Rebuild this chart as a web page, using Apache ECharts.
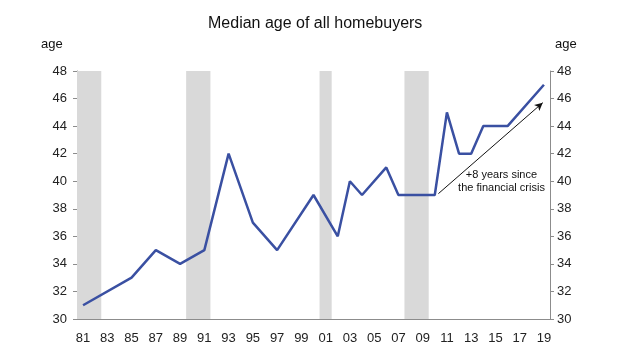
<!DOCTYPE html>
<html>
<head>
<meta charset="utf-8">
<script src="https://cdn.jsdelivr.net/npm/echarts@6/dist/echarts.min.js"></script>
<style>html,body{margin:0;padding:0;background:#fff}#c{width:640px;height:360px}</style>
</head>
<body>
<div id="c"></div>
<script>
var categories = ['81','82','83','84','85','86','87','88','89','90','91','92','93','94','95','96','97','98','99','00','01','02','03','04','05','06','07','08','09','10','11','12','13','14','15','16','17','18','19'];
var medianAge = [31,null,null,null,33,null,35,null,34,null,35,null,42,null,37,null,35,null,null,39,null,36,40,39,null,41,39,39,39,39,45,42,42,44,null,44,null,null,47];
var recessions = [[1981,1982],[1990,1991],[2001,2001],[2008,2009]];
var arrowFrom = [2010.3, 39.1];
var arrowTo = [2018.9, 45.7];
var noteAt = [2015.5, 40.0];
var noteText = '+8 years since\nthe financial crisis';
var yTicks = {min:30, max:48, interval:2};

var font = 'Liberation Sans, Arial, sans-serif';
var chart = echarts.init(document.getElementById('c'), null, {renderer:'canvas'});
var axisGray = '#8c8c8c';
chart.setOption({
  animation:false,
  backgroundColor:'#fff',
  title:{text:'Median age of all homebuyers', left:203, top:11,
    textStyle:{fontFamily:font, fontSize:16, fontWeight:'normal', color:'#111'}},
  graphic:[
    {type:'text', left:41, top:38, style:{text:'age', font:'13px '+font, fill:'#111'}},
    {type:'text', left:555, top:38, style:{text:'age', font:'13px '+font, fill:'#111'}}
  ],
  grid:{left:77, right:90, top:71, bottom:41},
  xAxis:[
    {type:'category', data:categories, boundaryGap:true,
     axisLine:{lineStyle:{color:axisGray}},
     axisTick:{interval:0, length:4, lineStyle:{color:axisGray}},
     axisLabel:{interval:1, margin:13, fontFamily:font, fontSize:13, color:'#222'}},
    {type:'value', min:1980.5, max:2019.5, show:false}
  ],
  yAxis:[
    {type:'value', position:'left', min:yTicks.min, max:yTicks.max, interval:yTicks.interval,
     splitLine:{show:false},
     axisLine:{show:true, lineStyle:{color:axisGray}},
     axisTick:{show:true, length:4, lineStyle:{color:axisGray}},
     axisLabel:{margin:10, fontFamily:font, fontSize:13, color:'#222'}},
    {type:'value', position:'right', min:yTicks.min, max:yTicks.max, interval:yTicks.interval,
     splitLine:{show:false},
     axisLine:{show:true, lineStyle:{color:axisGray}},
     axisTick:{show:true, length:4, lineStyle:{color:axisGray}},
     axisLabel:{margin:7, fontFamily:font, fontSize:13, color:'#222'}}
  ],
  series:[
    {type:'scatter', xAxisIndex:1, yAxisIndex:0, data:[], silent:true,
     markArea:{silent:true, itemStyle:{color:'#d9d9d9'},
       data:recessions.map(function(r){return [{xAxis:r[0]-0.5},{xAxis:r[1]+0.5}];})},
     markLine:{silent:true, symbol:['none','arrow'], symbolSize:[6,8],
       lineStyle:{color:'#111', width:1, type:'solid'}, label:{show:false},
       data:[[{coord:arrowFrom},{coord:arrowTo}]]},
     markPoint:{silent:true, symbol:'circle', symbolSize:0,
       label:{show:true, position:'inside', formatter:noteText, fontFamily:font, fontSize:11, lineHeight:13, color:'#111', align:'center'},
       data:[{coord:noteAt}]}
    },
    {type:'line', xAxisIndex:0, yAxisIndex:0, data:medianAge, connectNulls:true,
     showSymbol:false, symbol:'none', z:5,
     lineStyle:{color:'#3A50A2', width:2.5}}
  ]
});
</script>
</body>
</html>
